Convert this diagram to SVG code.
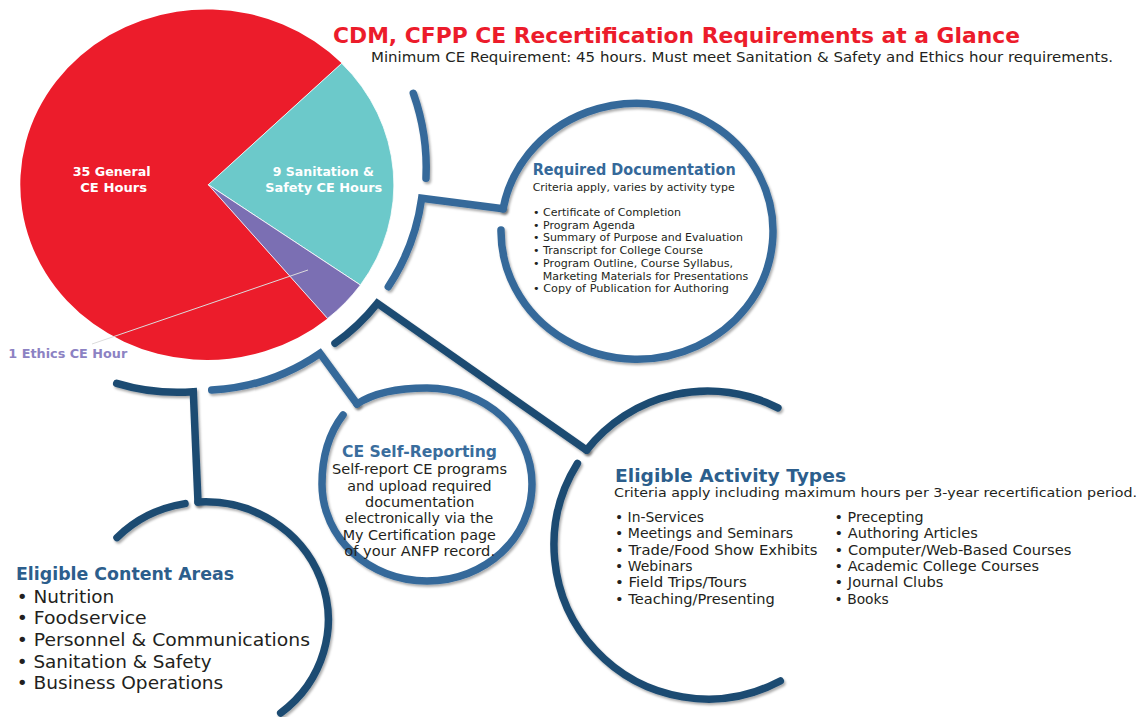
<svg xmlns="http://www.w3.org/2000/svg" width="1145" height="717" viewBox="0 0 1145 717">
<defs>
<filter id="sh" filterUnits="userSpaceOnUse" x="0" y="0" width="1145" height="717">
<feDropShadow dx="1.5" dy="2.2" stdDeviation="1.1" flood-color="#000" flood-opacity="0.32"/>
</filter>
</defs>
<style>
.steel{fill:none;stroke:#35699a;stroke-width:7.5;stroke-linecap:round;stroke-linejoin:miter;filter:url(#sh)}
.navy{fill:none;stroke:#1d4b72;stroke-width:7.5;stroke-linecap:round;stroke-linejoin:miter;filter:url(#sh)}
text{font-family:"DejaVu Sans","Liberation Sans",sans-serif}
.pl{fill:#fff;font-weight:bold;font-size:13px;text-anchor:middle}
.h{font-weight:bold}
.body{fill:#231f20}
</style>
<rect width="1145" height="717" fill="#fff"/>

<g id="title">
<text x="333" y="42.5" font-size="20.5" font-weight="bold" fill="#ec1c2b" textLength="687" lengthAdjust="spacingAndGlyphs">CDM, CFPP CE Recertification Requirements at a Glance</text>
<text class="body" x="371" y="62" font-size="14" textLength="742" lengthAdjust="spacingAndGlyphs">Minimum CE Requirement: 45 hours. Must meet Sanitation &amp; Safety and Ethics hour requirements.</text>
</g>

<g id="pie">
<path d="M208.3,184.7 L327.6,318.5 A186.7,175.3 0 1 1 341.7,63.3 Z" fill="#ec1c2b"/>
<path d="M208.3,184.7 L341.7,63.3 A186.7,175.3 0 0 1 360.4,285 Z" fill="#6cc9ca" stroke="#fff" stroke-width="0.8"/>
<path d="M208.3,184.7 L360.4,285 A186.7,175.3 0 0 1 327.6,318.5 Z" fill="#7b6fb3" stroke="#fff" stroke-width="0.8"/>
<line x1="308" y1="270" x2="92" y2="344" stroke="#dcdcdc" stroke-width="1"/>
<text class="pl" x="111.7" y="176" textLength="78" lengthAdjust="spacingAndGlyphs">35 General</text>
<text class="pl" x="113.7" y="191.7" textLength="67" lengthAdjust="spacingAndGlyphs">CE Hours</text>
<text class="pl" x="323.3" y="176" textLength="101" lengthAdjust="spacingAndGlyphs">9 Sanitation &amp;</text>
<text class="pl" x="323.7" y="191.7" textLength="117" lengthAdjust="spacingAndGlyphs">Safety CE Hours</text>
<text x="8.3" y="358" font-size="13" font-weight="bold" fill="#8c82c3" textLength="119" lengthAdjust="spacingAndGlyphs">1 Ethics CE Hour</text>
</g>

<g id="connectors">
<path class="steel" d="M413.3,93.3 A222,222 0 0 1 426,178.3"/>
<path class="steel" d="M388.3,286.7 A212,212 0 0 0 421.7,198.3 L503.1,208.8"/>
<path class="steel" d="M211.7,390 A210,210 0 0 0 320,353.3 L357,404"/>
<path class="navy" d="M335,343.3 A210,210 0 0 0 377.3,303.3 L586.6,450.1"/>
<path class="navy" d="M116.7,383.3 A210,210 0 0 0 193.3,391.7 L198,502"/>
</g>

<g id="required-documentation">
<path class="steel" d="M503.1,208.8 A136,128 0 1 1 501,229.9"/>
<text x="532.7" y="175" font-size="15" class="h" fill="#35699a" textLength="203" lengthAdjust="spacingAndGlyphs">Required Documentation</text>
<text class="body" x="532.7" y="191" font-size="10.5" textLength="202" lengthAdjust="spacingAndGlyphs">Criteria apply, varies by activity type</text>
<g class="body" font-size="10.5">
<text x="533" y="216" textLength="148" lengthAdjust="spacingAndGlyphs">• Certificate of Completion</text>
<text x="533" y="228.7" textLength="102" lengthAdjust="spacingAndGlyphs">• Program Agenda</text>
<text x="533" y="241.4" textLength="210" lengthAdjust="spacingAndGlyphs">• Summary of Purpose and Evaluation</text>
<text x="533" y="254.1" textLength="170" lengthAdjust="spacingAndGlyphs">• Transcript for College Course</text>
<text x="533" y="266.8" textLength="200" lengthAdjust="spacingAndGlyphs">• Program Outline, Course Syllabus,</text>
<text x="542.7" y="279.5" textLength="205.6" lengthAdjust="spacingAndGlyphs">Marketing Materials for Presentations</text>
<text x="533" y="292.2" textLength="196" lengthAdjust="spacingAndGlyphs">• Copy of Publication for Authoring</text>
</g>
</g>

<g id="ce-self-reporting">
<path class="steel" d="M357,404 C375,392 400,388 427,388 C485,388 532,430 532,484 C532,538 485,581 427,581 C369,581 322,538 322,484 C322,455 330,432 343,415"/>
<text x="419.5" y="456.7" font-size="15" class="h" fill="#3a6d9d" text-anchor="middle" textLength="155" lengthAdjust="spacingAndGlyphs">CE Self-Reporting</text>
<g class="body" font-size="13.5" text-anchor="middle">
<text x="419.5" y="474" textLength="175" lengthAdjust="spacingAndGlyphs">Self-report CE programs</text>
<text x="419.5" y="490.5" textLength="144.4" lengthAdjust="spacingAndGlyphs">and upload required</text>
<text x="419.7" y="507" textLength="109.3" lengthAdjust="spacingAndGlyphs">documentation</text>
<text x="419.2" y="523.3" textLength="148.3" lengthAdjust="spacingAndGlyphs">electronically via the</text>
<text x="419.3" y="539.7" textLength="153.3" lengthAdjust="spacingAndGlyphs">My Certification page</text>
<text x="419.7" y="556" textLength="150.7" lengthAdjust="spacingAndGlyphs">of your ANFP record.</text>
</g>
</g>

<g id="eligible-activity-types">
<path class="navy" d="M586.6,450.1 A154,154 0 0 1 777.9,407.8"/>
<path class="navy" d="M577.4,463.4 A154,154 0 0 0 780.3,681"/>
<text x="615" y="482" font-size="18" class="h" fill="#2c5e8c" textLength="231" lengthAdjust="spacingAndGlyphs">Eligible Activity Types</text>
<text class="body" x="614" y="497" font-size="13" textLength="523" lengthAdjust="spacingAndGlyphs">Criteria apply including maximum hours per 3-year recertification period.</text>
<g class="body" font-size="13.5">
<text x="615" y="522" textLength="89" lengthAdjust="spacingAndGlyphs">• In-Services</text>
<text x="615" y="538.3" textLength="178" lengthAdjust="spacingAndGlyphs">• Meetings and Seminars</text>
<text x="615" y="554.6" textLength="202.6" lengthAdjust="spacingAndGlyphs">• Trade/Food Show Exhibits</text>
<text x="615" y="570.9" textLength="77.6" lengthAdjust="spacingAndGlyphs">• Webinars</text>
<text x="615" y="587.2" textLength="131.7" lengthAdjust="spacingAndGlyphs">• Field Trips/Tours</text>
<text x="615" y="603.5" textLength="159.8" lengthAdjust="spacingAndGlyphs">• Teaching/Presenting</text>
<text x="834.6" y="522" textLength="89" lengthAdjust="spacingAndGlyphs">• Precepting</text>
<text x="834.6" y="538.3" textLength="143.2" lengthAdjust="spacingAndGlyphs">• Authoring Articles</text>
<text x="834.6" y="554.6" textLength="236.8" lengthAdjust="spacingAndGlyphs">• Computer/Web-Based Courses</text>
<text x="834.6" y="570.9" textLength="204.4" lengthAdjust="spacingAndGlyphs">• Academic College Courses</text>
<text x="834.6" y="587.2" textLength="108.7" lengthAdjust="spacingAndGlyphs">• Journal Clubs</text>
<text x="834.6" y="603.5" textLength="54.2" lengthAdjust="spacingAndGlyphs">• Books</text>
</g>
</g>

<g id="eligible-content-areas">
<path class="navy" d="M198,502 A123,118 0 0 1 280.7,713"/>
<path class="navy" d="M117,537.6 A123,118 0 0 1 185,503.6"/>
<text x="16" y="580" font-size="17.5" class="h" fill="#2c5e8c" textLength="218" lengthAdjust="spacingAndGlyphs">Eligible Content Areas</text>
<g class="body" font-size="17.5">
<text x="16.7" y="602.7" textLength="97.6" lengthAdjust="spacingAndGlyphs">• Nutrition</text>
<text x="16.7" y="624.3" textLength="130" lengthAdjust="spacingAndGlyphs">• Foodservice</text>
<text x="16.7" y="646" textLength="293.3" lengthAdjust="spacingAndGlyphs">• Personnel &amp; Communications</text>
<text x="16.7" y="667.6" textLength="195" lengthAdjust="spacingAndGlyphs">• Sanitation &amp; Safety</text>
<text x="16.7" y="689.3" textLength="206.6" lengthAdjust="spacingAndGlyphs">• Business Operations</text>
</g>
</g>
</svg>
